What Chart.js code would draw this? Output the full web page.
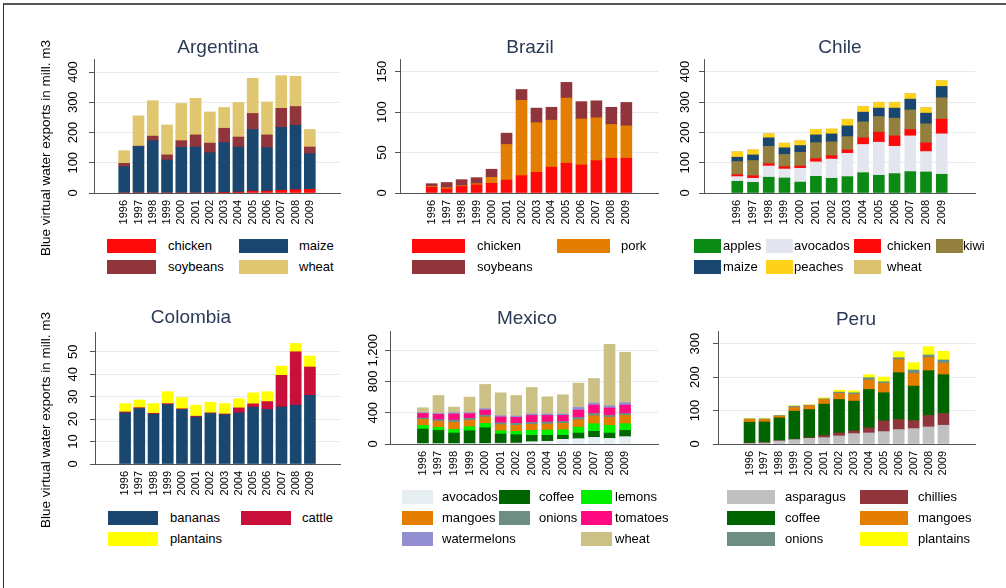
<!DOCTYPE html>
<html><head><meta charset="utf-8">
<script src="https://cdn.jsdelivr.net/npm/chart.js@4.4.0/dist/chart.umd.min.js"></script>
<style>
html,body{margin:0;padding:0;background:#fff;}
body{width:1006px;height:588px;position:relative;overflow:hidden;font-family:"Liberation Sans",Arial,sans-serif;}
#frame{position:absolute;left:3px;top:3px;width:1010px;height:600px;border-top:2px solid #555;border-left:1px solid #333;}
canvas{position:absolute;}
.ttl{position:absolute;font-size:19px;color:#2b3a57;transform:translate(-50%,-50%);white-space:nowrap;}
.ytitle{position:absolute;font-size:13.5px;color:#000;transform:translate(-50%,-50%) rotate(-90deg);white-space:nowrap;}
.sw{position:absolute;height:14px;}
.lt{position:absolute;font-size:13px;line-height:14px;color:#000;white-space:nowrap;}
</style></head><body>
<div id="frame"></div>
<script>
const years = [1996,1997,1998,1999,2000,2001,2002,2003,2004,2005,2006,2007,2008,2009];

// Argentina
const argChicken = [0,0,0,0,0,0,0,1,3,6,6,9,11,12];
const argMaize   = [87,154,173,109,151,152,133,166,149,204,144,208,213,118];
const argSoy     = [11,1,15,17,22,40,32,47,33,53,42,63,62,22];
const argWheat   = [42,100,117,99,123,121,103,69,114,116,109,108,100,58];
const argTicks   = [0,100,200,300,400];

// Brazil
const braChicken = [7,5,8,10,12,16,21.5,25.6,32,36.8,34.7,40,43,43];
const braPork    = [1,1.5,1,1.5,7.4,44,93,61.4,58,80.6,56.8,53,41.7,40];
const braSoy     = [3.5,6.5,7.5,7.5,10,14,13.5,18,16,19.4,21.5,21,21.3,29];
const braTicks   = [0,50,100,150];

// Chile
const chiApples   = [38.6,35,52,49.6,36,55,48.5,54,67,58.4,64,70.5,69.4,61.7];
const chiAvocados = [15.4,13.5,37,29.4,45.5,47.5,63.5,77,93,109.1,90,117.9,67.2,133.3];
const chiChicken  = [6.6,8.5,8,8,7.5,11,11,11,22,33,34.4,21,28.7,48.5];
const chiKiwi     = [43,50,57,40,45,52.5,45.6,44,52.7,51.5,58.6,64.6,62.7,70.5];
const chiMaize    = [14.4,18.6,28,22,22.5,25.7,26.4,35.5,32,28,33,35.6,35.4,37.5];
const chiPeaches  = [17.5,16.4,13,15,15.5,17.7,15.5,20.9,18.7,18.6,18.6,17.7,17.6,18.5];
const chiWheat    = [1,1,1,1,1,1,1,1,1,1,1,1,1,1];
const chiTicks    = [0,100,200,300,400];

// Colombia
const colBananas   = [22.8,24.7,22.2,26.5,24.3,20.9,22.5,22,22.8,25.3,24.3,25.4,26.2,30.6];
const colCattle    = [0.4,0.4,0.4,0.4,0.3,0.4,0.3,0.3,2.2,1.5,3.5,14.1,23.8,12.6];
const colPlantains = [3.7,3.4,4.3,5.3,5,4.9,4.7,4.6,4.1,4.9,4.4,4.1,3.7,4.9];
const colTicks     = [0,10,20,30,40,50];

// Mexico
const mexAvocados    = [5,5,5,5,8,10,12,30,35,60,68,85,72,94];
const mexCoffee      = [186,169,135,165,200,118,107,81,76,51,72,77,68,80];
const mexLemons      = [47,39,47,51,56,42,43,63,68,72,77,98,98,86];
const mexMangoes     = [77,76,90,81,81,77,76,77,76,81,94,102,102,106];
const mexOnions      = [17,22,29,26,25,25,26,26,26,25,29,29,26,25];
const mexTomatoes    = [59,68,77,59,64,73,76,89,85,77,94,107,94,107];
const mexWatermelons = [9,12,17,13,17,17,17,17,17,17,34,25,29,30];
const mexWheat       = [64,230,72,200,311,293,264,340,221,247,311,315,787,646];
const mexTicks       = [0,400,800,1200];

// Peru
const perAsparagus = [2,3,9,13,17,19,24,31,33,37,43,46,51,56];
const perChillies  = [1,1,1,1,2,6,9,8,15,32,30,24,34,35];
const perCoffee    = [62,62,68,84,84,94,100,89,115,84,140,103,134,116];
const perMangoes   = [8,7,5,11,11,14,18,20,28,28,39,38,40,34];
const perOnions    = [2,2,2,4,2,2,4,5,7,5,6,10,7,10];
const perPlantains = [1,1,1,1,1,3,6,6,9,14,18,22,25,26];
const perTicks     = [0,100,200,300];

const yTitle = 'Blue virtual water exports in mill. m3';

const C = {
  red:'#ff0a0a', navy:'#1a476f', maroon:'#90353b', wheatA:'#dfc66f', pork:'#e37e00',
  apples:'#0b8a16', avocadoC:'#e4e6ef', kiwi:'#94803e', peaches:'#ffd21a', wheatC:'#d9c16d',
  cattle:'#c8103a', yellow:'#ffff00',
  avocadoM:'#e6eef2', coffee:'#006400', lemons:'#00f000', onions:'#6e8e84', tomatoes:'#ff0a80',
  water:'#938dd2', wheatM:'#cbc086', asparagus:'#c0c0c0'
};

const FONT = '"Liberation Sans", Arial, sans-serif';
const mctx = document.createElement('canvas').getContext('2d');
mctx.font = '13px "Liberation Sans"';
const fmt = v => v.toLocaleString('en-US');
const measure = s => mctx.measureText(s).width;

const panels = [
  {title:'Argentina', tx:218, ty:47, plot:[94,59,340,193], yMax:443, yTicks:argTicks, off:21,
   series:[['chicken',argChicken,C.red],['maize',argMaize,C.navy],['soybeans',argSoy,C.maroon],['wheat',argWheat,C.wheatA]],
   lg:{cols:[107,239], texts:[168,299], sw:49, rows:[239,260], ncol:2, slots:[0,1,2,3]}},
  {title:'Brazil', tx:530, ty:47, plot:[400,59,658,193], yMax:165.7, yTicks:braTicks, off:18,
   series:[['chicken',braChicken,C.red],['pork',braPork,C.pork],['soybeans',braSoy,C.maroon]],
   lg:{cols:[412,557], texts:[477,621], sw:53, rows:[239,260], ncol:2, slots:[0,1,2]}},
  {title:'Chile', tx:840, ty:47, plot:[704,59,975,193], yMax:442, yTicks:chiTicks, off:19,
   series:[['apples',chiApples,C.apples],['avocados',chiAvocados,C.avocadoC],['chicken',chiChicken,C.red],['kiwi',chiKiwi,C.kiwi],
           ['maize',chiMaize,C.navy],['peaches',chiPeaches,C.peaches],['wheat',chiWheat,C.wheatC]],
   lg:{cols:[694,766,854,936], texts:[723,794,887,963], sw:27, rows:[239,260], ncol:4, slots:[0,1,2,3,4,5,6]}},
  {title:'Colombia', tx:191, ty:317, plot:[95,332,340,464], yMax:58.8, yTicks:colTicks, off:22,
   series:[['bananas',colBananas,C.navy],['cattle',colCattle,C.cattle],['plantains',colPlantains,C.yellow]],
   lg:{cols:[108,241], texts:[170,302], sw:50, rows:[511,532], ncol:2, slots:[0,1,2]}},
  {title:'Mexico', tx:527, ty:318, plot:[390,331,658,444], yMax:1446, yTicks:mexTicks, off:17,
   series:[['avocados',mexAvocados,C.avocadoM],['coffee',mexCoffee,C.coffee],['lemons',mexLemons,C.lemons],['mangoes',mexMangoes,C.pork],
           ['onions',mexOnions,C.onions],['tomatoes',mexTomatoes,C.tomatoes],['watermelons',mexWatermelons,C.water],['wheat',mexWheat,C.wheatM]],
   lg:{cols:[402,499,581], texts:[442,539,615], sw:31, rows:[490,511,532], ncol:3, slots:[0,1,2,3,4,5,6,8]}},
  {title:'Peru', tx:856, ty:319, plot:[718,331,975,444], yMax:337.5, yTicks:perTicks, off:23,
   series:[['asparagus',perAsparagus,C.asparagus],['chillies',perChillies,C.maroon],['coffee',perCoffee,C.coffee],['mangoes',perMangoes,C.pork],
           ['onions',perOnions,C.onions],['plantains',perPlantains,C.yellow]],
   lg:{cols:[727,860], texts:[785,918], sw:48, rows:[490,511,532], ncol:2, slots:[0,1,2,3,4,5]}}
];

function addDiv(cls, text, x, y, extra){
  const d = document.createElement('div');
  d.className = cls;
  if (text !== null) d.textContent = text;
  d.style.left = x + 'px'; d.style.top = y + 'px';
  if (extra) Object.assign(d.style, extra);
  document.body.appendChild(d);
  return d;
}

function makePanel(p){
  const [L,T,R,B] = p.plot;
  const padL = 60, padT = 25, padR = 10, xH = 45;
  const cv = document.createElement('canvas');
  const w = R - L + padL + padR, h = B - T + padT + xH;
  cv.width = w; cv.height = h;
  cv.style.left = (L - padL) + 'px'; cv.style.top = (T - padT) + 'px';
  cv.style.width = w + 'px'; cv.style.height = h + 'px';
  document.body.appendChild(cv);
  const widest = Math.max(...p.yTicks.map(v => measure(fmt(v))));
  const chart = new Chart(cv, {
    type: 'bar',
    data: {
      datasets: p.series.map(([label, vals, color]) => ({
        label, backgroundColor: color, borderWidth: 0, barThickness: 11,
        data: vals.map((v, i) => ({x: years[i], y: v}))
      }))
    },
    options: {
      responsive: false, animation: false, devicePixelRatio: 1,
      layout: {padding: {left: 0, top: padT, right: padR, bottom: 0}},
      plugins: {legend: {display: false}, tooltip: {enabled: false}, title: {display: false}},
      scales: {
        x: {
          type: 'linear', stacked: true, min: years[0] - 1.5, max: years[years.length - 1] + 1.5,
          afterBuildTicks: s => { s.ticks = years.map(v => ({value: v})); },
          afterFit: s => { s.height = xH; },
          grid: {display: false, drawTicks: false},
          border: {display: true, color: '#555', width: 1},
          ticks: {autoSkip: false, minRotation: 90, maxRotation: 90, padding: 7,
                  font: {size: 11, family: FONT}, color: '#000', callback: v => String(v)}
        },
        y: {
          stacked: true, min: 0, max: p.yMax,
          afterBuildTicks: s => { s.ticks = p.yTicks.map(v => ({value: v})); },
          afterFit: s => { s.width = padL; },
          grid: {color: c => (c.tick && c.tick.value === 0) ? 'rgba(0,0,0,0)' : '#e3ebee',
                 lineWidth: 1, drawTicks: true, tickLength: 5, tickColor: '#555'},
          border: {display: true, color: '#555', width: 1},
          ticks: {minRotation: 90, maxRotation: 90, crossAlign: 'center',
                  padding: p.off - 5 - widest / 2,
                  font: {size: 13, family: FONT}, color: '#000', callback: v => fmt(v)}
        }
      }
    }
  });
  addDiv('ttl', p.title, p.tx, p.ty);
  chart.data.datasets.forEach((ds, i) => {
    const slot = p.lg.slots[i];
    const r = Math.floor(slot / p.lg.ncol), c = slot % p.lg.ncol;
    addDiv('sw', null, p.lg.cols[c], p.lg.rows[r], {width: p.lg.sw + 'px', background: ds.backgroundColor});
    addDiv('lt', ds.label, p.lg.texts[c], p.lg.rows[r]);
  });
}

panels.forEach(makePanel);
addDiv('ytitle', yTitle, 45, 148);
addDiv('ytitle', yTitle, 45, 420);
</script>
</body></html>
